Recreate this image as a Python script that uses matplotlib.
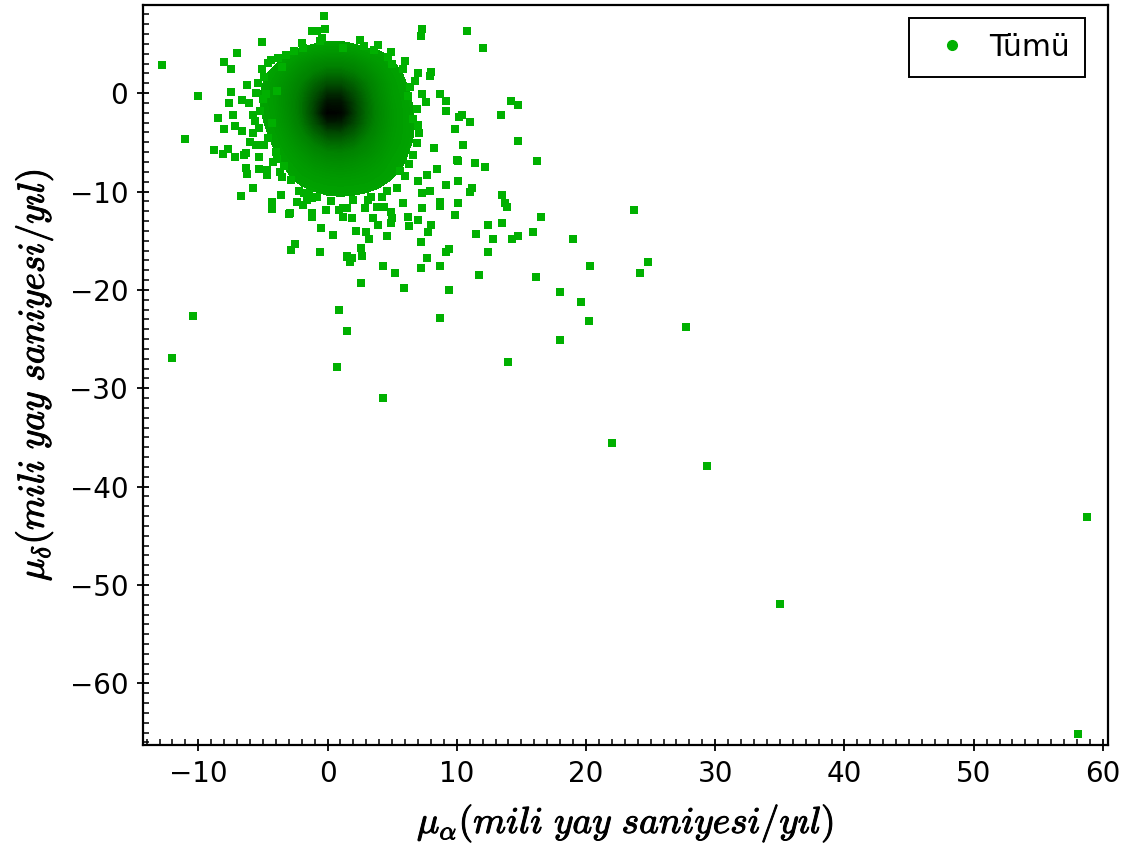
import numpy as np
import matplotlib
matplotlib.use("Agg")
import matplotlib.pyplot as plt
import matplotlib.patheffects as pe
from matplotlib.colors import LinearSegmentedColormap, Normalize
from matplotlib.lines import Line2D

# --- Veri: seyrek yildizlar (mas/yil) ---
pm_ra = [
    -0.3, -1.2, -0.8, -0.2, -5.1, -7.0, -1.9, 1.2, -12.8, -8.0, -7.5, -4.6, -3.5, -5.1,
    -10.0, -7.5, -6.2, -5.5, -7.6, -6.1, -4.8, -8.5, -7.3, -5.8, -8.0, -7.2, -6.6, -5.8,
    -5.3, -11.0, -6.0, -5.5, -8.8, -7.7, -8.1, -7.2, -6.5, -6.3, -6.2, -5.3, -5.3, -3.9,
    -4.7, -3.5, -5.8, -6.7, -4.3, -3.6, -2.4,
    7.3, 7.2, 10.8, 12.0, 4.7, 6.0, 5.8, 7.0, 7.9, 8.0, 8.7, 9.2, 7.3, 7.6, 14.2, 14.7,
    10.4, 11.0, 13.4, 9.2, 9.9, 10.5, 14.7, 16.2, 10.1, 11.4, 12.2, 8.5, 7.7, 9.2, 10.1,
    7.0, 11.2, 11.0, 7.9, 7.3, 10.1,
    -4.3, -4.3, -3.0, -1.9, -1.6, -1.2, -0.8, -1.2, -0.5, -0.1, 0.4, -2.5, -2.8, -0.6,
    1.2, 1.2, 1.5, 0.9, 1.5, -10.4, -12.0, 0.7,
    1.5, 1.9, 2.9, 3.8, 3.5, 3.9, 4.9, 5.0, 4.9, 4.4, 6.2, 6.3, 7.0, 7.3, 8.0, 7.8, 7.2,
    8.7, 9.9, 4.6, 2.2, 3.0, 3.2, 2.6, 1.5, 1.9, 1.7, 2.7, 4.3, 5.2, 5.9, 7.2, 7.7, 9.2,
    9.4, 8.7, 9.4, 2.6, 8.7, 14.0, 4.3, 11.5, 12.4, 13.5, 12.8, 12.4, 14.3, 14.7, 15.9,
    11.7, 16.1, 13.5, 13.7, 13.9, 16.5,
    19.0, 23.7, 20.3, 24.8, 24.2, 18.0, 19.6, 20.2, 27.7, 18.0,
    22.0, 29.4, 35.0, 58.8, 58.1,
    10.2, 10.0, 8.7, 5.8, 0.9, -1.2, -2.9, -6.6, -6.3, -4.7,
    # merkez kenarindaki yildizlar
    -4.9, -4.4, -5.2, -4.6, -4.0, -3.4, -2.8, -2.2, -3.9, -4.3, 6.4, 6.9, 7.1, 6.6, 6.0,
    5.4, 4.9, 3.9, 2.5, -0.4, -2.0, -3.2, 4.2, 6.8, 8.2, 5.6, 3.1, -1.4,
    -2.6, -0.6, 2.8, 3.6, 5.0, -3.8, 6.2, 6.6, 7.0, 6.9, 6.3, 4.6, 3.4, 2.0, 0.3, -1.8,
    -5.4, -5.0, -5.6, -4.9, -4.2, -3.7,
]
pm_dec = [
    7.8, 6.3, 6.3, 6.5, 5.2, 4.1, 4.6, 4.6, 2.9, 3.2, 2.5, 3.1, 2.7, 2.5,
    -0.3, 0.1, 0.8, 0.0, -1.0, -1.0, -0.1, -2.5, -2.2, -2.2, -3.6, -3.3, -3.9, -4.1,
    -3.5, -4.7, -5.0, -5.3, -5.8, -5.7, -6.2, -6.5, -6.3, -7.6, -8.2, -7.7, -6.5, -6.7,
    -8.3, -8.5, -9.6, -10.5, -11.1, -10.4, -11.1,
    6.5, 5.8, 6.3, 4.6, 3.7, 3.3, 2.5, 2.0, 1.7, 2.1, -0.1, -0.8, -0.1, -0.9, -0.8, -1.2,
    -2.2, -2.9, -2.2, -1.8, -3.6, -5.3, -4.9, -6.9, -6.9, -7.1, -7.5, -7.7, -8.3, -9.3, -8.9,
    -8.9, -9.6, -10.0, -9.9, -10.2, -11.2,
    -11.4, -11.8, -12.3, -11.4, -10.9, -10.7, -10.6, -12.6, -13.7, -11.9, -14.4, -15.3, -15.9, -16.2,
    -11.7, -12.6, -16.6, -22.0, -24.2, -22.7, -26.9, -27.8,
    -11.7, -12.7, -11.7, -11.6, -12.7, -13.4, -12.1, -12.7, -13.2, -11.6, -12.6, -13.5, -12.9, -11.7, -13.4, -14.1, -15.1,
    -11.5, -12.4, -14.5, -14.0, -14.1, -14.8, -15.7, -16.7, -16.8, -17.2, -16.6, -17.6, -18.3, -19.8, -17.8, -16.8, -16.1,
    -15.8, -17.6, -20.0, -19.3, -22.9, -27.3, -31.0, -14.3, -13.4, -13.2, -14.8, -16.1, -14.8, -14.5, -14.1,
    -18.5, -18.7, -10.4, -11.2, -11.6, -12.6,
    -14.8, -11.9, -17.6, -17.2, -18.3, -20.2, -21.2, -23.2, -23.8, -25.1,
    -35.6, -37.9, -51.9, -43.1, -65.1,
    -2.4, -6.8, -11.1, -11.2, -11.9, -12.2, -12.2, -0.7, -6.1, -7.8,
    1.6, 3.4, -1.8, -4.6, -6.0, -7.4, -8.8, -9.9, 0.2, -3.0, 0.6, -1.6, -4.1, -6.3, -8.4,
    -9.6, 4.2, 4.9, 5.4, 5.6, 5.1, 3.9, -10.6, 1.2, -5.6, -7.9, -10.9, -10.3,
    4.3, 5.3, 4.8, 4.4, 3.0, 3.6, -0.3, -2.6, -3.2, -5.1, -7.2, -9.9, -10.6, -10.9, -11.0, -10.2,
    1.0, -0.6, -2.8, -5.3, -7.0, -8.0,
]

# --- Veri: yogun merkez bolgesi (goreli yogunluk) ---
core_x = [-6, -5, -4, -3, -2, -1, 0, 1, 2, 3, 4, 5, 6, 7, 8]
core_y = [6, 5, 4, 3, 2, 1, 0, -1, -2, -3, -4, -5, -6, -7, -8, -9, -10, -11, -12]
core_density = [
    [0, 0, 0, 0, 0, 0, 0, 0, 0, 0, 0, 0, 0, 0, 0],
    [0, 0, 0, 0, 0.2, 0.5, 0.7, 0.7, 0.5, 0.2, 0, 0, 0, 0, 0],
    [0, 0, 0, 0.55, 1, 1.4, 1.6, 1.6, 1.4, 1.0, 0.7, 0.3, 0, 0, 0],
    [0, 0, 0.45, 1.1, 1.8, 2.4, 2.7, 2.7, 2.4, 1.8, 1.2, 0.6, 0.2, 0, 0],
    [0, 0.3, 0.9, 1.6, 2.4, 3.2, 3.8, 3.8, 3.3, 2.5, 1.6, 0.9, 0.4, 0, 0],
    [0, 0.5, 1.2, 2, 3, 4.2, 5.2, 5.2, 4.3, 3.2, 2, 1.1, 0.55, 0.1, 0],
    [0.1, 0.6, 1.3, 2.2, 3.4, 5, 6.5, 6.5, 5.2, 3.6, 2.2, 1.2, 0.65, 0.2, 0],
    [0.1, 0.6, 1.3, 2.3, 3.6, 5.6, 7.6, 7.6, 5.8, 3.9, 2.4, 1.3, 0.75, 0.3, 0],
    [0, 0.55, 1.2, 2.2, 3.6, 5.8, 8.5, 8.3, 6, 4, 2.5, 1.4, 0.8, 0.35, 0],
    [0, 0.45, 1.1, 2, 3.3, 5.2, 7, 7, 5.6, 3.8, 2.4, 1.4, 0.8, 0.4, 0],
    [0, 0.3, 0.9, 1.7, 2.8, 4.2, 5.4, 5.5, 4.6, 3.3, 2.2, 1.3, 0.8, 0.35, 0],
    [0, 0.15, 0.7, 1.4, 2.2, 3.2, 4, 4.1, 3.6, 2.7, 1.9, 1.2, 0.75, 0.3, 0],
    [0, 0, 0.5, 1.1, 1.7, 2.4, 2.9, 3, 2.7, 2.2, 1.6, 1, 0.6, 0.2, 0],
    [0, 0, 0.3, 0.8, 1.3, 1.8, 2.1, 2.2, 2, 1.7, 1.3, 0.8, 0.5, 0.1, 0],
    [0, 0, 0.1, 0.55, 1, 1.3, 1.5, 1.6, 1.5, 1.3, 1, 0.7, 0.3, 0, 0],
    [0, 0, 0, 0.3, 0.65, 0.9, 1.05, 1.1, 1.05, 0.95, 0.75, 0.4, 0.1, 0, 0],
    [0, 0, 0, 0.05, 0.3, 0.5, 0.65, 0.7, 0.65, 0.55, 0.35, 0.1, 0, 0, 0],
    [0, 0, 0, 0, 0, 0.1, 0.25, 0.3, 0.25, 0.1, 0, 0, 0, 0, 0],
    [0, 0, 0, 0, 0, 0, 0, 0, 0, 0, 0, 0, 0, 0, 0],
]

GREEN = '#00b000'

plt.rcParams['mathtext.fontset'] = 'cm'
plt.rcParams['font.family'] = ['DejaVu Sans']

fig = plt.figure(figsize=(11.33, 8.47), dpi=100)
ax = fig.add_axes([0.126, 0.120, 0.852, 0.874])

cmap = LinearSegmentedColormap.from_list(
    'yesil', [(0.0, '#00a400'), (0.3, '#008200'), (0.6, '#004c00'),
              (0.85, '#001600'), (1.0, '#000000')])
levels = np.linspace(0.5, 8.6, 60)
ax.contourf(core_x, core_y, np.array(core_density), levels=levels, cmap=cmap,
            norm=Normalize(vmin=0.5, vmax=8.6), extend='max',
            antialiased=False, zorder=2)

ax.scatter(pm_ra, pm_dec, s=30, marker='s', color=GREEN, linewidths=0, zorder=3)

ax.set_xlim(-14.3, 60.4)
ax.set_ylim(-66.3, 8.95)
ax.set_xticks(np.arange(-10, 61, 10))
ax.set_yticks(np.arange(-60, 1, 10))
ax.set_xticks(np.arange(-14, 61, 1), minor=True)
ax.set_yticks(np.arange(-66, 9, 1), minor=True)
ax.tick_params(which='major', direction='inout', length=9, width=1.3, labelsize=20, pad=6)
ax.tick_params(which='minor', direction='in', length=4, width=1.1)
for sp in ax.spines.values():
    sp.set_linewidth(1.6)

thick = [pe.withStroke(linewidth=0.7, foreground='black')]
ax.set_xlabel(r'$\mu_\alpha(mili\ yay\ saniyesi/y\imath l)$', fontsize=27, labelpad=10,
              path_effects=thick)
ax.set_ylabel(r'$\mu_\delta(mili\ yay\ saniyesi/y\imath l)$', fontsize=27, labelpad=10,
              path_effects=thick)

handle = Line2D([], [], linestyle='none', marker='o', markersize=7, color=GREEN)
leg = ax.legend([handle], ['Tümü'], loc='upper right', bbox_to_anchor=(0.976, 0.983),
                fontsize=21.5, fancybox=False, framealpha=1, edgecolor='black',
                borderaxespad=0, handletextpad=0.3, handlelength=1.9, borderpad=0.5)
leg.get_frame().set_linewidth(1.4)

fig.savefig('out.png', dpi=100)
